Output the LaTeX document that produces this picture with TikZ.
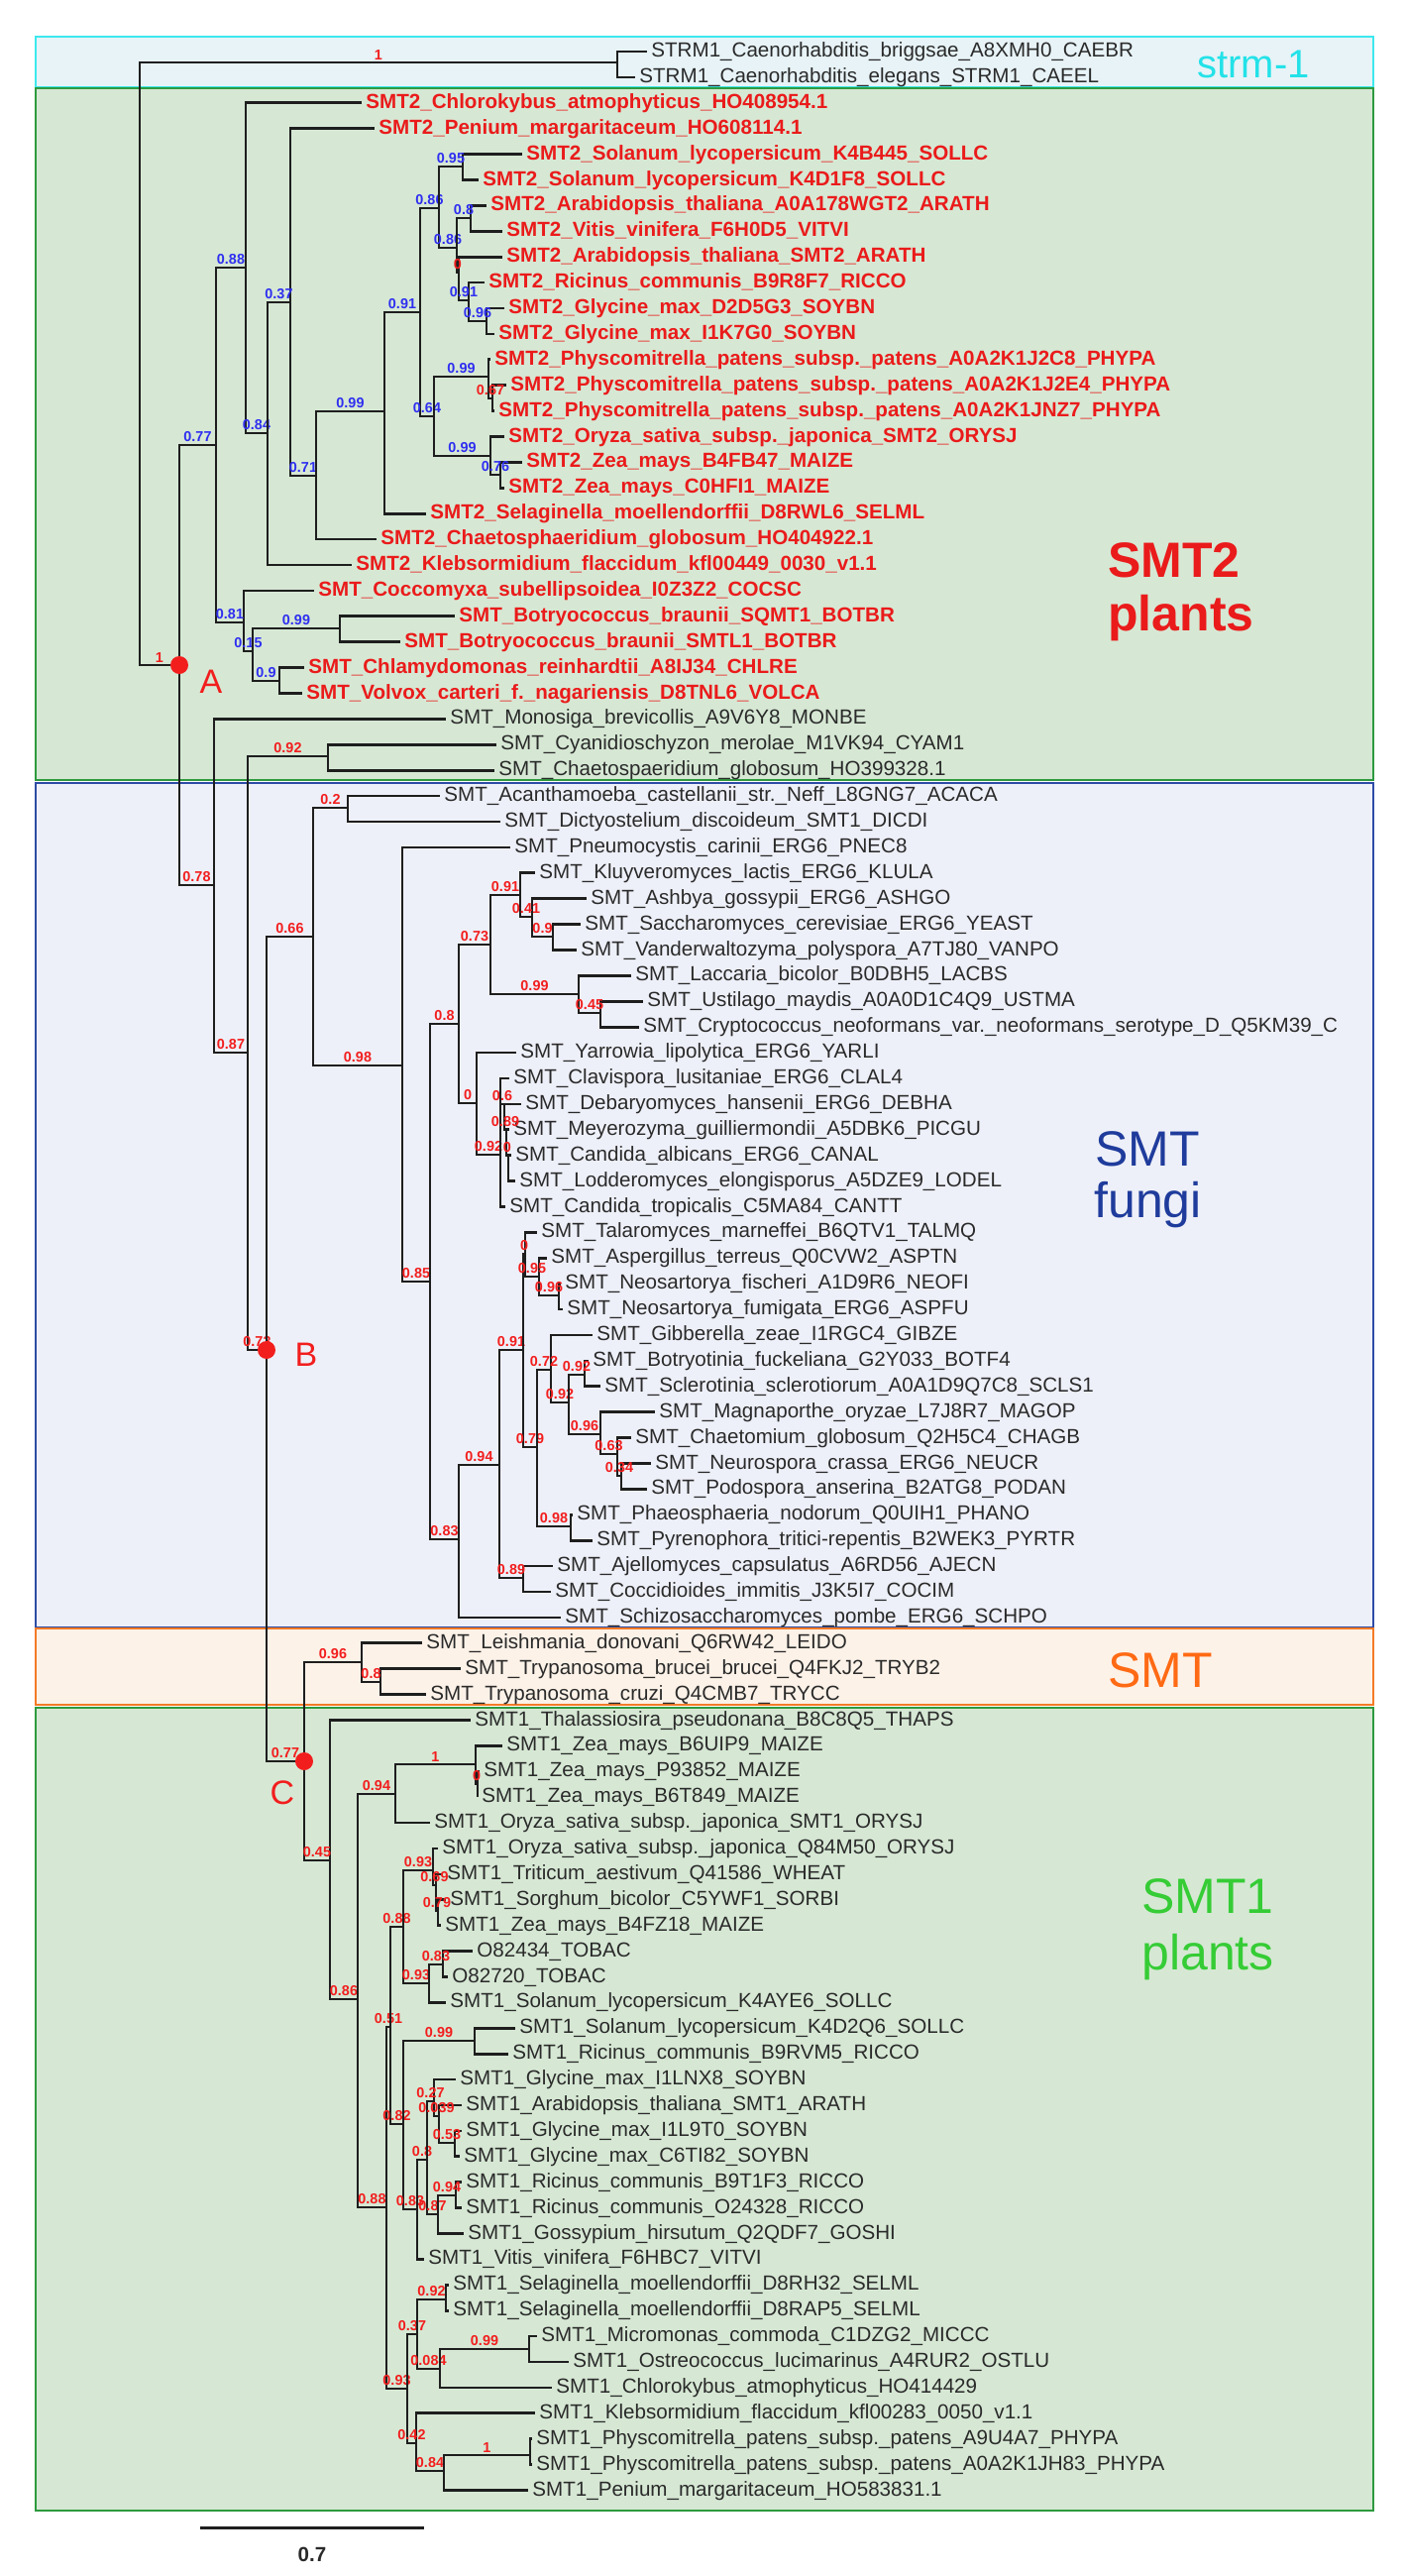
\documentclass[tikz,border=0pt]{standalone}
\usepackage{fontspec}
\setmainfont{Liberation Sans}
\definecolor{treeline}{HTML}{1E1E1E}
\definecolor{leafgray}{HTML}{2A2A2A}
\definecolor{smtred}{HTML}{EA1B1B}
\definecolor{supblue}{HTML}{2F2FF0}
\definecolor{supred}{HTML}{F21E1E}
\definecolor{strmfill}{HTML}{E7F3F7}
\definecolor{strmline}{HTML}{3CE8EE}
\definecolor{plantfill}{HTML}{D6E8D4}
\definecolor{plantline}{HTML}{2E9A3E}
\definecolor{fungifill}{HTML}{EEF0F9}
\definecolor{fungiline}{HTML}{2D4CA6}
\definecolor{kinefill}{HTML}{FCF2E8}
\definecolor{kineline}{HTML}{F47A26}
\definecolor{fungitext}{HTML}{1F3C9C}
\definecolor{kinetext}{HTML}{FF6A14}
\definecolor{smtonetext}{HTML}{35CC35}
\definecolor{strmtext}{HTML}{22E2E8}

\tikzset{
  br/.style={line width=1.35pt, draw=treeline},
  leaf/.style={anchor=west, inner sep=2pt, text=leafgray, text height=1.55ex, text depth=0.5ex, font=\fontsize{10.3}{12}\selectfont},
  leafr/.style={leaf, text=smtred, font=\fontsize{10.3}{12}\selectfont\bfseries},
  supb/.style={pos=0.75, anchor=south, inner sep=0.8pt, text=supblue, font=\fontsize{7.2}{8}\selectfont\bfseries},
  supr/.style={supb, text=supred},
  grp/.style={line width=1.4pt},
  hub/.style={circle, fill=supred, inner sep=0pt, minimum size=9pt},
  lettr/.style={text=supred, font=\fontsize{17}{20}\selectfont},
  cladename/.style={anchor=base west, inner sep=0pt, font=\fontsize{25}{30}\selectfont}
}

\begin{document}
\catcode`\_=12
\begin{tikzpicture}[x=0.5pt, y=-0.5pt]
  \useasboundingbox (0,0) rectangle (1419,2599);
  % clade boxes
  \draw[grp, fill=strmfill, draw=strmline] (36,37) rectangle (1386,88);
  \draw[grp, fill=plantfill, draw=plantline] (36,89) rectangle (1386,787);
  \draw[grp, fill=fungifill, draw=fungiline] (36,790) rectangle (1386,1642);
  \draw[grp, fill=kinefill, draw=kineline] (36,1643) rectangle (1386,1720);
  \draw[grp, fill=plantfill, draw=plantline] (36,1723) rectangle (1386,2533);

  \node[cladename, text=strmtext, font=\fontsize{20}{24}\selectfont] (strmname) at (1208,78) {strm-1};
  \node[cladename, text=smtred, font=\fontsize{25}{30}\selectfont\bfseries] (smttwoa) at (1118,582) {SMT2};
  \node[cladename, text=smtred, font=\fontsize{25}{30}\selectfont\bfseries] (smttwob) at (1118,636) {plants};
  \node[cladename, text=fungitext] (fungia) at (1105,1176) {SMT};
  \node[cladename, text=fungitext] (fungib) at (1104,1228) {fungi};
  \node[cladename, text=kinetext] (kine) at (1118,1702) {SMT};
  \node[cladename, text=smtonetext] (smtonea) at (1152,1930) {SMT1};
  \node[cladename, text=smtonetext] (smtoneb) at (1152,1987) {plants};

  % leaves
  \foreach \i/\e/\txt in {1/653/STRM1_Caenorhabditis_briggsae_A8XMH0_CAEBR,
      2/641/STRM1_Caenorhabditis_elegans_STRM1_CAEEL,
      27/450/SMT_Monosiga_brevicollis_A9V6Y8_MONBE,
      28/501/SMT_Cyanidioschyzon_merolae_M1VK94_CYAM1,
      29/499/SMT_Chaetospaeridium_globosum_HO399328.1,
      30/444/SMT_Acanthamoeba_castellanii_str._Neff_L8GNG7_ACACA,
      31/505/SMT_Dictyostelium_discoideum_SMT1_DICDI,
      32/515/SMT_Pneumocystis_carinii_ERG6_PNEC8,
      33/540/SMT_Kluyveromyces_lactis_ERG6_KLULA,
      34/592/SMT_Ashbya_gossypii_ERG6_ASHGO,
      35/586/SMT_Saccharomyces_cerevisiae_ERG6_YEAST,
      36/582/SMT_Vanderwaltozyma_polyspora_A7TJ80_VANPO,
      37/637/SMT_Laccaria_bicolor_B0DBH5_LACBS,
      38/649/SMT_Ustilago_maydis_A0A0D1C4Q9_USTMA,
      39/645/SMT_Cryptococcus_neoformans_var._neoformans_serotype_D_Q5KM39_C,
      40/521/SMT_Yarrowia_lipolytica_ERG6_YARLI,
      41/514/SMT_Clavispora_lusitaniae_ERG6_CLAL4,
      42/526/SMT_Debaryomyces_hansenii_ERG6_DEBHA,
      43/514/SMT_Meyerozyma_guilliermondii_A5DBK6_PICGU,
      44/516/SMT_Candida_albicans_ERG6_CANAL,
      45/520/SMT_Lodderomyces_elongisporus_A5DZE9_LODEL,
      46/510/SMT_Candida_tropicalis_C5MA84_CANTT,
      47/542/SMT_Talaromyces_marneffei_B6QTV1_TALMQ,
      48/552/SMT_Aspergillus_terreus_Q0CVW2_ASPTN,
      49/566/SMT_Neosartorya_fischeri_A1D9R6_NEOFI,
      50/568/SMT_Neosartorya_fumigata_ERG6_ASPFU,
      51/598/SMT_Gibberella_zeae_I1RGC4_GIBZE,
      52/594/SMT_Botryotinia_fuckeliana_G2Y033_BOTF4,
      53/606/SMT_Sclerotinia_sclerotiorum_A0A1D9Q7C8_SCLS1,
      54/661/SMT_Magnaporthe_oryzae_L7J8R7_MAGOP,
      55/637/SMT_Chaetomium_globosum_Q2H5C4_CHAGB,
      56/657/SMT_Neurospora_crassa_ERG6_NEUCR,
      57/653/SMT_Podospora_anserina_B2ATG8_PODAN,
      58/578/SMT_Phaeosphaeria_nodorum_Q0UIH1_PHANO,
      59/598/SMT_Pyrenophora_tritici-repentis_B2WEK3_PYRTR,
      60/558/SMT_Ajellomyces_capsulatus_A6RD56_AJECN,
      61/556/SMT_Coccidioides_immitis_J3K5I7_COCIM,
      62/566/SMT_Schizosaccharomyces_pombe_ERG6_SCHPO,
      63/426/SMT_Leishmania_donovani_Q6RW42_LEIDO,
      64/465/SMT_Trypanosoma_brucei_brucei_Q4FKJ2_TRYB2,
      65/430/SMT_Trypanosoma_cruzi_Q4CMB7_TRYCC,
      66/475/SMT1_Thalassiosira_pseudonana_B8C8Q5_THAPS,
      67/507/SMT1_Zea_mays_B6UIP9_MAIZE,
      68/484/SMT1_Zea_mays_P93852_MAIZE,
      69/482/SMT1_Zea_mays_B6T849_MAIZE,
      70/434/SMT1_Oryza_sativa_subsp._japonica_SMT1_ORYSJ,
      71/442/SMT1_Oryza_sativa_subsp._japonica_Q84M50_ORYSJ,
      72/447/SMT1_Triticum_aestivum_Q41586_WHEAT,
      73/450/SMT1_Sorghum_bicolor_C5YWF1_SORBI,
      74/445/SMT1_Zea_mays_B4FZ18_MAIZE,
      75/477/O82434_TOBAC,
      76/452/O82720_TOBAC,
      77/450/SMT1_Solanum_lycopersicum_K4AYE6_SOLLC,
      78/520/SMT1_Solanum_lycopersicum_K4D2Q6_SOLLC,
      79/513/SMT1_Ricinus_communis_B9RVM5_RICCO,
      80/460/SMT1_Glycine_max_I1LNX8_SOYBN,
      81/466/SMT1_Arabidopsis_thaliana_SMT1_ARATH,
      82/466/SMT1_Glycine_max_I1L9T0_SOYBN,
      83/464/SMT1_Glycine_max_C6TI82_SOYBN,
      84/466/SMT1_Ricinus_communis_B9T1F3_RICCO,
      85/466/SMT1_Ricinus_communis_O24328_RICCO,
      86/468/SMT1_Gossypium_hirsutum_Q2QDF7_GOSHI,
      87/428/SMT1_Vitis_vinifera_F6HBC7_VITVI,
      88/453/SMT1_Selaginella_moellendorffii_D8RH32_SELML,
      89/453/SMT1_Selaginella_moellendorffii_D8RAP5_SELML,
      90/542/SMT1_Micromonas_commoda_C1DZG2_MICCC,
      91/574/SMT1_Ostreococcus_lucimarinus_A4RUR2_OSTLU,
      92/557/SMT1_Chlorokybus_atmophyticus_HO414429,
      93/540/SMT1_Klebsormidium_flaccidum_kfl00283_0050_v1.1,
      94/537/SMT1_Physcomitrella_patens_subsp._patens_A9U4A7_PHYPA,
      95/537/SMT1_Physcomitrella_patens_subsp._patens_A0A2K1JH83_PHYPA,
      96/533/SMT1_Penium_margaritaceum_HO583831.1}
    \node[leaf] (l\i) at (\e,{52+25.9*(\i-1)}) {\txt};
  \foreach \i/\e/\txt in {3/365/SMT2_Chlorokybus_atmophyticus_HO408954.1,
      4/378/SMT2_Penium_margaritaceum_HO608114.1,
      5/527/SMT2_Solanum_lycopersicum_K4B445_SOLLC,
      6/483/SMT2_Solanum_lycopersicum_K4D1F8_SOLLC,
      7/491/SMT2_Arabidopsis_thaliana_A0A178WGT2_ARATH,
      8/507/SMT2_Vitis_vinifera_F6H0D5_VITVI,
      9/507/SMT2_Arabidopsis_thaliana_SMT2_ARATH,
      10/489/SMT2_Ricinus_communis_B9R8F7_RICCO,
      11/509/SMT2_Glycine_max_D2D5G3_SOYBN,
      12/499/SMT2_Glycine_max_I1K7G0_SOYBN,
      13/495/SMT2_Physcomitrella_patens_subsp._patens_A0A2K1J2C8_PHYPA,
      14/511/SMT2_Physcomitrella_patens_subsp._patens_A0A2K1J2E4_PHYPA,
      15/499/SMT2_Physcomitrella_patens_subsp._patens_A0A2K1JNZ7_PHYPA,
      16/509/SMT2_Oryza_sativa_subsp._japonica_SMT2_ORYSJ,
      17/527/SMT2_Zea_mays_B4FB47_MAIZE,
      18/509/SMT2_Zea_mays_C0HFI1_MAIZE,
      19/430/SMT2_Selaginella_moellendorffii_D8RWL6_SELML,
      20/380/SMT2_Chaetosphaeridium_globosum_HO404922.1,
      21/355/SMT2_Klebsormidium_flaccidum_kfl00449_0030_v1.1,
      22/317/SMT_Coccomyxa_subellipsoidea_I0Z3Z2_COCSC,
      23/459/SMT_Botryococcus_braunii_SQMT1_BOTBR,
      24/404/SMT_Botryococcus_braunii_SMTL1_BOTBR,
      25/307/SMT_Chlamydomonas_reinhardtii_A8IJ34_CHLRE,
      26/305/SMT_Volvox_carteri_f._nagariensis_D8TNL6_VOLCA}
    \node[leafr] (l\i) at (\e,{52+25.9*(\i-1)}) {\txt};

  % inner nodes
  \foreach \n/\x/\y in {root/141/367, strm/623/63, nA/181/671,
      a77/218/449, a88/248/270, a84/270/437, a37/293/305, a71/319/480,
      a99/388/415, a91/424/315, a86/443/210, a95/467/168, a86b/461/250,
      a80/475/220, a0/463/275, a91b/473/303, a96/491/324, a64/438/420,
      a99p/493/380, a67/497/402, a99g/495/460, a76/505/479,
      a81/246/628, a15/255/657, a99d/343/634, a90/282/687,
      a78/216/893, a87/250/1062, a92/331/763, nB/269/1362,
      f66/316/945, f20/351/815, f98/406/1075, f85/434/1293, f80/463/1033,
      f73/495/953, f91/525/903, f41/537/925, f90/558/945, f99/584/1003,
      f45/606/1022, f0/481/1113, f92/505/1165, f60/509/1114, f89/511/1140,
      f0b/513/1166, f83/463/1553, f94/504/1478, f91g/528/1362, f0g/530/1265,
      f95/544/1288, f96/564/1307, f79/542/1460, f72/556/1382, f92g/574/1415,
      f92h/590/1387, f96h/606/1447, f63/623/1467, f34/627/1489,
      f98g/576/1540, f89g/528/1592,
      nC/307/1777, t96/365/1677, t80/384/1697, c45/333/1877, c86/361/2017,
      c94/399/1810, c1/480/1780, c0z/482/1800, c88/390/2227, c51/394/2045,
      c88g/407/1944, c93g/437/1887, c69/440/1902, c79/442/1928,
      c93t/433/2001, c83t/447/1982, c82/407/2143, c99/479/2059,
      c83e/421/2229, c80/431/2179, c27/438/2120, c039/443/2135,
      c53/459/2162, c87/442/2234, c94e/460/2215, c93b/411/2410,
      c37/421/2355, c92/450/2320, c084/444/2390, c99m/534/2370,
      c42/420/2465, c84/448/2493, c1p/535/2477}
    \coordinate (\n) at (\x,\y);

  % branches without support values
  \foreach \p/\c in {strm/l1, strm/l2, a88/l3, a84/l21, a37/l4, a71/l20,
      a99/l19, a95/l5, a95/l6, a0/l9, a80/l7, a80/l8, a91b/l10, a96/l11,
      a96/l12, a99p/l13, a67/l14, a67/l15, a99g/l16, a76/l17, a76/l18,
      a81/l22, a99d/l23, a99d/l24, a90/l25, a90/l26, a78/l27, a92/l28,
      a92/l29, f20/l30, f20/l31, f98/l32, f91/l33, f41/l34, f90/l35,
      f90/l36, f99/l37, f45/l38, f45/l39, f0/l40, f92/l41, f92/l46,
      f60/l42, f89/l43, f0b/l44, f0b/l45, f83/l62, f0g/l47, f95/l48,
      f96/l49, f96/l50, f72/l51, f92h/l52, f92h/l53, f96h/l54, f63/l55,
      f34/l56, f34/l57, f98g/l58, f98g/l59, f89g/l60, f89g/l61, t96/l63,
      t80/l64, t80/l65, c45/l66, c94/l70, c1/l67, c0z/l68, c0z/l69,
      c93g/l71, c69/l72, c79/l73, c79/l74, c93t/l77, c83t/l75, c83t/l76,
      c99/l78, c99/l79, c83e/l87, c27/l80, c039/l81, c53/l82, c53/l83,
      c87/l86, c94e/l84, c94e/l85, c92/l88, c92/l89, c084/l92, c99m/l90,
      c99m/l91, c42/l93, c84/l96, c1p/l94, c1p/l95}
    \draw[br] (\p) |- (\c);

  % support values, SMT2 part
  \foreach \p/\c/\v in {nA/a77/0.77, a77/a88/0.88, a77/a81/0.81, a88/a84/0.84,
      a84/a37/0.37, a37/a71/0.71, a71/a99/0.99, a99/a91/0.91, a91/a86/0.86,
      a91/a64/0.64, a86/a95/0.95, a86/a86b/0.86, a86b/a80/0.8, a0/a91b/0.91,
      a91b/a96/0.96, a64/a99p/0.99, a64/a99g/0.99, a99g/a76/0.76,
      a81/a15/0.15, a15/a99d/0.99, a15/a90/0.9}
    \draw[br] (\p) |- node[supb] {\v} (\c);

  % support values, rest
  \foreach \p/\c/\v in {root/strm/1, root/nA/1, a86b/a0/0, a99p/a67/0.67,
      nA/a78/0.78, a78/a87/0.87, a87/a92/0.92, a87/nB/0.73, nB/f66/0.66,
      nB/nC/0.77, f66/f20/0.2, f66/f98/0.98, f98/f85/0.85, f85/f80/0.8,
      f85/f83/0.83, f80/f73/0.73, f80/f0/0, f73/f91/0.91, f73/f99/0.99,
      f91/f41/0.41, f41/f90/0.9, f99/f45/0.45, f0/f92/0.92, f92/f60/0.6,
      f60/f89/0.89, f89/f0b/0, f83/f94/0.94, f94/f91g/0.91, f94/f89g/0.89,
      f91g/f0g/0, f91g/f79/0.79, f0g/f95/0.95, f95/f96/0.96, f79/f72/0.72,
      f79/f98g/0.98, f72/f92g/0.92, f92g/f92h/0.92, f92g/f96h/0.96,
      f96h/f63/0.63, f63/f34/0.34, nC/t96/0.96, nC/c45/0.45, t96/t80/0.8,
      c45/c86/0.86, c86/c94/0.94, c86/c88/0.88, c94/c1/1, c1/c0z/0,
      c88/c51/0.51, c88/c93b/0.93, c51/c88g/0.88, c51/c82/0.82,
      c88g/c93g/0.93, c88g/c93t/0.93, c93g/c69/0.69, c69/c79/0.79,
      c93t/c83t/0.83, c82/c99/0.99, c82/c83e/0.83, c83e/c80/0.8,
      c80/c27/0.27, c80/c87/0.87, c27/c039/0.039, c039/c53/0.53,
      c87/c94e/0.94, c93b/c37/0.37, c93b/c42/0.42, c37/c92/0.92,
      c37/c084/0.084, c084/c99m/0.99, c42/c84/0.84, c84/c1p/1}
    \draw[br] (\p) |- node[supr] {\v} (\c);

  % marked nodes
  \node[hub] (dotA) at (nA) {};
  \node[hub] (dotB) at (nB) {};
  \node[hub] (dotC) at (nC) {};
  \node[lettr] (labA) at (213,688) {A};
  \node[lettr] (labB) at (309,1367) {B};
  \node[lettr] (labC) at (285,1809) {C};

  % scale bar
  \coordinate (sbl) at (202,2550);
  \coordinate (sbr) at (428,2550);
  \draw[line width=1.5pt, draw=treeline] (sbl) -- (sbr);
  \node[text=leafgray, font=\fontsize{10.3}{12}\selectfont\bfseries] (sblab) at (315,2577) {0.7};
\end{tikzpicture}
\end{document}
